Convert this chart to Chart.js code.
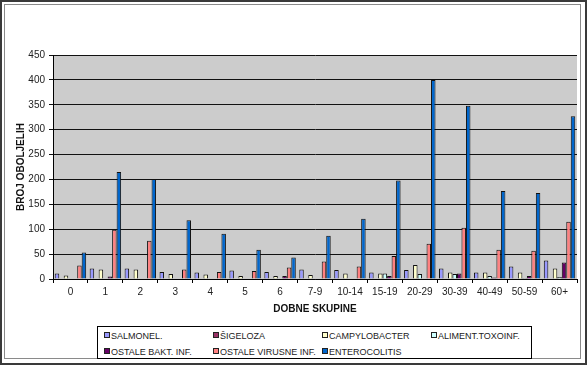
<!DOCTYPE html>
<html lang="hr">
<head>
  <meta charset="UTF-8" />
  <title>Oboljeli po dobnim skupinama</title>
  <style>
    html, body {
      margin: 0;
      padding: 0;
      background: #ffffff;
      font-family: 'Liberation Sans', Arial, sans-serif;
    }
    #frame {
      position: absolute;
      left: 0; top: 0;
      width: 587px; height: 365px;
      box-sizing: border-box;
      border: 2px solid #3a3a3a;
    }
    #inner {
      position: absolute;
      left: 4px; top: 4px;
      width: 577px; height: 355px;
      box-sizing: border-box;
      border: 1px solid #8a8a8a;
    }
    #chart {
      position: absolute;
      left: 0; top: 0;
    }
    #legend {
      position: absolute;
      left: 97px; top: 326px;
      width: 435px; height: 33px;
      box-sizing: border-box;
      border: 1px solid #000;
      background: #fff;
    }
    .leg-item {
      position: absolute;
      font-size: 9px;
      color: #222;
      white-space: nowrap;
      line-height: 12px;
    }
    .leg-box {
      display: inline-block;
      width: 4px; height: 4px;
      border: 1px solid #222;
      margin-right: 1px;
      vertical-align: 1px;
    }
  </style>
</head>
<body>
  <div id="frame"></div>
  <div id="inner"></div>
  <canvas id="chart" width="587" height="365"></canvas>
  <div id="legend"></div>

  <script src="https://cdn.jsdelivr.net/npm/chart.js"></script>
  <script>
    const groups = ['0', '1', '2', '3', '4', '5', '6', '7-9', '10-14', '15-19', '20-29', '30-39', '40-49', '50-59', '60+'];

    const salmonel      = [11, 21, 21, 14, 13, 17, 14, 19, 18, 13, 18, 21, 13, 25, 37];
    const sigeloza      = [0, 0, 0, 0, 0, 0, 0, 0, 0, 0, 0, 0, 0, 0, 0];
    const campylobacter = [7, 19, 19, 10, 9, 6, 6, 8, 11, 11, 28, 13, 13, 13, 21];
    const alimentToxo   = [0, 0, 0, 0, 0, 0, 0, 0, 0, 11, 10, 10, 6, 2, 4];
    const ostaleBakt    = [0, 5, 0, 0, 0, 0, 6, 1, 0, 6, 0, 11, 3, 6, 33];
    const ostaleVirusne = [27, 99, 77, 19, 14, 16, 23, 35, 25, 46, 71, 103, 59, 57, 115];
    const enterocolitis = [53, 215, 201, 118, 91, 59, 43, 87, 121, 198, 400, 348, 177, 173, 327];

    const yTicks = [0, 50, 100, 150, 200, 250, 300, 350, 400, 450];

    const series = [
      { label: 'SALMONEL.', data: salmonel, color: '#9999ff' },
      { label: 'ŠIGELOZA', data: sigeloza, color: '#993366' },
      { label: 'CAMPYLOBACTER', data: campylobacter, color: '#ffffcc' },
      { label: 'ALIMENT.TOXOINF.', data: alimentToxo, color: '#ccffff' },
      { label: 'OSTALE BAKT. INF.', data: ostaleBakt, color: '#660066' },
      { label: 'OSTALE VIRUSNE INF.', data: ostaleVirusne, color: '#ff8080' },
      { label: 'ENTEROCOLITIS', data: enterocolitis, color: '#0066cc' }
    ];

    // grey plot background, like the old spreadsheet charts
    const plotBg = {
      id: 'plotBg',
      beforeDraw(chart) {
        const a = chart.chartArea;
        const ctx = chart.ctx;
        ctx.save();
        ctx.fillStyle = '#cccccc';
        ctx.fillRect(a.left, a.top, a.right - a.left, a.bottom - a.top);
        ctx.restore();
      }
    };

    const font = { family: "'Liberation Sans', Arial, sans-serif", size: 10 };

    new Chart(document.getElementById('chart'), {
      type: 'bar',
      data: {
        labels: groups,
        datasets: series.map(s => ({
          label: s.label,
          data: s.data,
          backgroundColor: s.color,
          borderColor: '#111',
          borderWidth: 1,
          categoryPercentage: 0.9,
          barPercentage: 1.0
        }))
      },
      options: {
        responsive: false,
        animation: false,
        layout: { padding: { left: 0, right: 10, top: 55, bottom: 46 } },
        plugins: {
          legend: { display: false },
          tooltip: { enabled: false }
        },
        scales: {
          x: {
            grid: {
              display: true,
              drawOnChartArea: false,
              offset: true,
              color: '#000',
              tickLength: 4
            },
            border: { color: '#000' },
            ticks: { color: '#222', font: font, padding: 3, maxRotation: 0, autoSkip: false },
            title: {
              display: true,
              text: 'DOBNE SKUPINE',
              color: '#111',
              font: { family: font.family, size: 10, weight: 'bold' },
              padding: { top: 6, bottom: 4 }
            },
            afterFit(scale) { scale.height = 40; }
          },
          y: {
            min: 0,
            max: 450,
            afterBuildTicks(scale) { scale.ticks = yTicks.map(v => ({ value: v })); },
            grid: { color: '#111', tickLength: 4 },
            border: { color: '#000' },
            ticks: { color: '#222', font: font, padding: 4 },
            title: {
              display: true,
              text: 'BROJ OBOLJELIH',
              color: '#111',
              font: { family: font.family, size: 10, weight: 'bold' },
              padding: { top: 15, bottom: 4 }
            },
            afterFit(scale) { scale.width = 53; }
          }
        }
      },
      plugins: [plotBg]
    });

    // legend in two rows of four columns, inside a framed box
    const legendEl = document.getElementById('legend');
    series.forEach((s, i) => {
      const item = document.createElement('div');
      item.className = 'leg-item';
      item.style.left = (6 + (i % 4) * 109) + 'px';
      item.style.top = (i < 4 ? 3 : 19) + 'px';
      item.innerHTML = '<span class="leg-box" style="background:' + s.color + '"></span>' + s.label;
      legendEl.appendChild(item);
    });
  </script>
</body>
</html>
